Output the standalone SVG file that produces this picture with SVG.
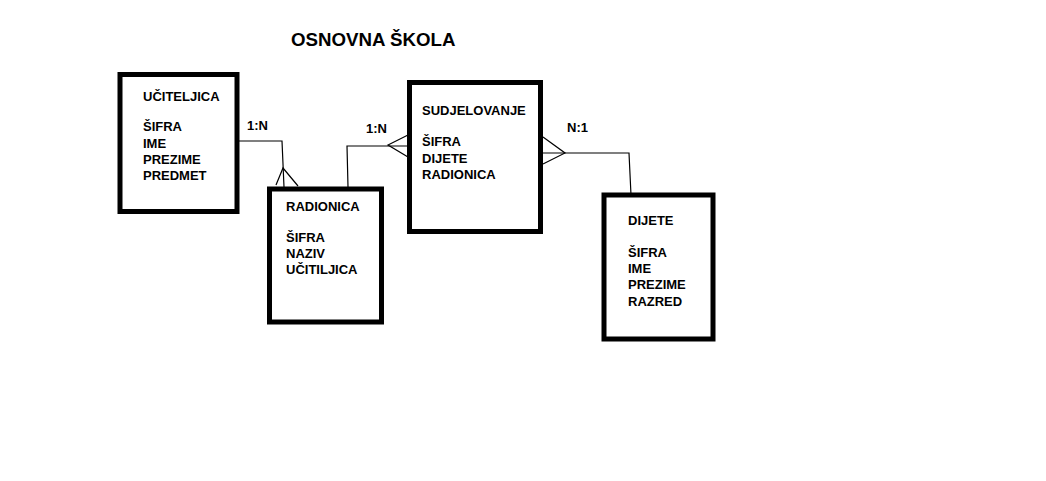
<svg xmlns="http://www.w3.org/2000/svg" width="1046" height="481" viewBox="0 0 1046 481">
<style>
.box{fill:#fff;stroke:#000;stroke-width:5}
.t{font-family:"Liberation Sans",Arial,sans-serif;font-weight:bold;font-size:13px;fill:#000}
.title{font-family:"Liberation Sans",Arial,sans-serif;font-weight:bold;font-size:18.7px;fill:#000}
.c{fill:none;stroke:#000;stroke-width:1.2}
</style>
<rect width="1046" height="481" fill="#fff"/>
<text class="title" x="291" y="46">OSNOVNA ŠKOLA</text>
<g id="connectors">
<polyline class="c" points="239,141 282,141 284,187"/>
<polyline class="c" points="276,185 283,168 298,186"/>
<polyline class="c" points="348,187 347,146 408,146"/>
<polyline class="c" points="408,135 388,145 408,157"/>
<polyline class="c" points="543,153 629,153 631,195"/>
<polyline class="c" points="543,137 565,153 543,164"/>
<text class="t" x="247" y="130">1:N</text>
<text class="t" x="366" y="133">1:N</text>
<text class="t" x="567" y="132">N:1</text>
</g>
<g id="ucitelj">
<rect class="box" x="120" y="74.5" width="117" height="137"/>
<text class="t" x="143" y="101">UČITELJICA</text>
<text class="t" x="143" y="131">ŠIFRA</text>
<text class="t" x="143" y="148">IME</text>
<text class="t" x="143" y="164">PREZIME</text>
<text class="t" x="143" y="180">PREDMET</text>
</g>
<g id="radionica">
<rect class="box" x="269.5" y="189" width="112" height="133"/>
<text class="t" x="286" y="211">RADIONICA</text>
<text class="t" x="286" y="242">ŠIFRA</text>
<text class="t" x="286" y="258">NAZIV</text>
<text class="t" x="286" y="274">UČITILJICA</text>
</g>
<g id="sudjelovanje">
<rect class="box" x="409.5" y="82.5" width="131" height="149"/>
<text class="t" x="422" y="115">SUDJELOVANJE</text>
<text class="t" x="422" y="146">ŠIFRA</text>
<text class="t" x="422" y="163">DIJETE</text>
<text class="t" x="422" y="179">RADIONICA</text>
</g>
<g id="dijete">
<rect class="box" x="604" y="195" width="109" height="144"/>
<text class="t" x="628" y="225">DIJETE</text>
<text class="t" x="628" y="257">ŠIFRA</text>
<text class="t" x="628" y="273">IME</text>
<text class="t" x="628" y="289">PREZIME</text>
<text class="t" x="628" y="306">RAZRED</text>
</g>
</svg>
